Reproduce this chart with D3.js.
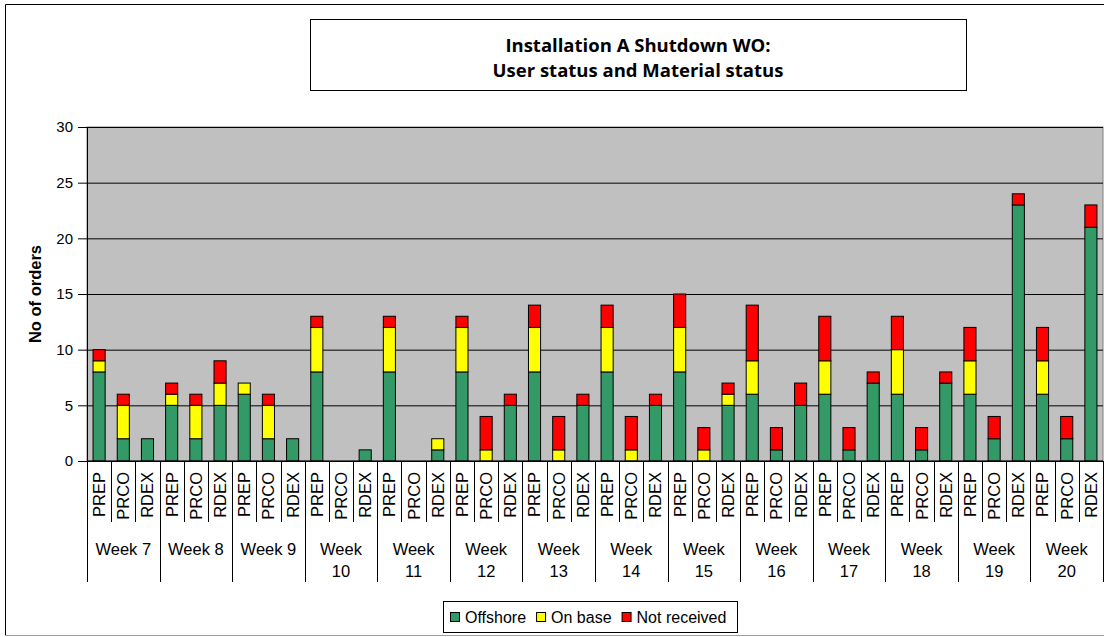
<!DOCTYPE html>
<html>
<head>
<meta charset="utf-8">
<script src="https://cdn.jsdelivr.net/npm/d3@7"></script>
<style>
body { margin:0; background:#fff; }
svg text { font-family: Arial, "Liberation Sans", sans-serif; }
</style>
</head>
<body>
<div id="orderChart"></div>
<script>
var weeks = ["Week 7","Week 8","Week 9","Week 10","Week 11","Week 12","Week 13","Week 14","Week 15","Week 16","Week 17","Week 18","Week 19","Week 20"];
var statuses = ["PREP","PRCO","RDEX"];
var seriesNames = ["Offshore","On base","Not received"];
var seriesColors = ["#339966","#ffff00","#ff0000"];
var yTicks = [0,5,10,15,20,25,30];

// one value per week/status, in order PREP, PRCO, RDEX
var offshore =    [8,2,2, 5,2,5, 6,2,2, 8,0,1, 8,0,1, 8,0,5, 8,0,5, 8,0,5, 8,0,5, 6,1,5, 6,1,7, 6,1,7, 6,2,23, 6,2,21];
var onBase =      [1,3,0, 1,3,2, 1,3,0, 4,0,0, 4,0,1, 4,1,0, 4,1,0, 4,1,0, 4,1,1, 3,0,0, 3,0,0, 4,0,0, 3,0,0,  3,0,0];
var notReceived = [1,1,0, 1,1,2, 0,1,0, 1,0,0, 1,0,0, 1,3,1, 2,3,1, 2,3,1, 3,2,1, 5,2,2, 4,2,1, 3,2,1, 3,2,1,  3,2,2];

function drawChart()
{
	var dim = {
		width: 1104,
		height: 637,
		margin: {
			top: 127,
			bottom: 176,
			left: 87,
			right: 1
		}
	}
	dim.ctrWidth = dim.width - dim.margin.left - dim.margin.right;
	dim.ctrHeight = dim.height - dim.margin.top - dim.margin.bottom;

	var rows = [];
	weeks.forEach(function(w, i) {
		statuses.forEach(function(s, j) {
			var k = i*3 + j;
			rows.push({key: w + "|" + s, week: w, status: s,
				"Offshore": offshore[k], "On base": onBase[k], "Not received": notReceived[k]});
		});
	});

	var keyAccessor = (d) => d.key;
	var stacked = d3.stack().keys(seriesNames)(rows);

	var xScale = d3.scaleBand()
	.domain(rows.map(keyAccessor))
	.range([0, dim.ctrWidth])
	.paddingInner(0.5)
	.paddingOuter(0.25);

	var weekScale = d3.scaleBand()
	.domain(weeks)
	.range([0, dim.ctrWidth]);

	var yScale = d3.scaleLinear()
	.domain([0, 30])
	.range([dim.ctrHeight, 0]);

	var colorScale = d3.scaleOrdinal()
	.domain(seriesNames)
	.range(seriesColors);

	var svg = d3.select('#orderChart')
	.append('svg')
	.attr('width', dim.width)
	.attr('height', dim.height);

	// outer chart frame
	svg.append('path')
	.attr('d', `M5.5,636 V4.5 H1110`)
	.attr('fill', 'none')
	.attr('stroke', '#000');
	svg.append('line')
	.attr('x1', 5).attr('x2', 1104).attr('y1', 635.5).attr('y2', 635.5)
	.attr('stroke', '#a0a0a0');

	// title box
	var title = svg.append('g');
	title.append('rect')
	.attr('x', 310.5).attr('y', 19.5)
	.attr('width', 656).attr('height', 71)
	.attr('fill', '#fff')
	.attr('stroke', '#000');
	title.selectAll('text')
	.data(["Installation A Shutdown WO:", "User status and Material status"])
	.join('text')
	.attr('x', 638)
	.attr('y', (d, i) => 52 + i*25)
	.attr('text-anchor', 'middle')
	.style('font-family', '"Open Sans", sans-serif')
	.style('font-weight', 'bold')
	.style('font-size', '18.5px')
	.text((d) => d);

	var ctr = svg.append('g')
	.attr('transform', `translate(${dim.margin.left},${dim.margin.top})`);

	ctr.append('rect')
	.attr('width', dim.ctrWidth)
	.attr('height', dim.ctrHeight)
	.attr('fill', '#c0c0c0')
	.attr('stroke', '#808080');

	var grid = ctr.append('g')
	.call(d3.axisLeft(yScale).tickValues(yTicks).tickSize(-dim.ctrWidth).tickFormat(''));
	grid.select('.domain').remove();
	grid.selectAll('line').attr('stroke', '#000');

	var yAxis = ctr.append('g')
	.call(d3.axisLeft(yScale).tickValues(yTicks).tickSize(9).tickPadding(5));
	yAxis.selectAll('text')
	.style('font-size', '15px')
	.attr('fill', '#000');
	yAxis.selectAll('line, path').attr('stroke', '#000');

	ctr.append('text')
	.attr('transform', `translate(${41 - dim.margin.left},${dim.ctrHeight/2}) rotate(-90)`)
	.attr('text-anchor', 'middle')
	.style('font-size', '16.5px')
	.style('font-weight', 'bold')
	.text('No of orders');

	ctr.selectAll('g.series')
	.data(stacked)
	.join('g')
	.attr('class', 'series')
	.attr('fill', (d) => colorScale(d.key))
	.selectAll('rect')
	.data((d) => d.filter((p) => p[1] > p[0]))
	.join('rect')
	.attr('x', (d) => xScale(d.data.key))
	.attr('width', xScale.bandwidth())
	.attr('y', (d) => yScale(d[1]))
	.attr('height', (d) => yScale(d[0]) - yScale(d[1]))
	.attr('stroke', '#000')
	.attr('stroke-width', 1);

	// category axis
	var xAxis = ctr.append('g')
	.attr('transform', `translate(0,${dim.ctrHeight})`);

	xAxis.append('line')
	.attr('x1', 0).attr('x2', dim.ctrWidth)
	.attr('stroke', '#000');

	var slotStart = (d) => xScale(keyAccessor(d)) - xScale.step()*xScale.paddingOuter();

	xAxis.selectAll('line.sub')
	.data(rows.filter((d) => d.status != "PREP"))
	.join('line')
	.attr('class', 'sub')
	.attr('x1', (d) => Math.round(slotStart(d)) + 0.5)
	.attr('x2', (d) => Math.round(slotStart(d)) + 0.5)
	.attr('y1', 0).attr('y2', 61)
	.attr('stroke', '#000');

	xAxis.selectAll('line.wk')
	.data(weeks.map((w) => weekScale(w)).concat([dim.ctrWidth]))
	.join('line')
	.attr('class', 'wk')
	.attr('x1', (d) => Math.round(d) + 0.5)
	.attr('x2', (d) => Math.round(d) + 0.5)
	.attr('y1', 0).attr('y2', 121)
	.attr('stroke', '#000');

	xAxis.selectAll('text.cat')
	.data(rows)
	.join('text')
	.attr('class', 'cat')
	.attr('transform', (d) => `translate(${xScale(d.key) + xScale.bandwidth()/2},11) rotate(-90)`)
	.attr('text-anchor', 'end')
	.attr('dy', '0.36em')
	.style('font-size', '16.5px')
	.text((d) => d.status);

	var weekLabels = xAxis.selectAll('text.wk')
	.data(weeks)
	.join('text')
	.attr('class', 'wk')
	.attr('text-anchor', 'middle')
	.style('font-size', '16.5px')
	.attr('transform', (d) => `translate(${weekScale(d) + weekScale.bandwidth()/2},94)`);
	weekLabels.each(function(d) {
		var parts = d.length > 6 ? d.split(" ") : [d];
		d3.select(this).selectAll('tspan')
		.data(parts)
		.join('tspan')
		.attr('x', 0)
		.attr('y', (p, i) => i*22)
		.text((p) => p);
	});

	// legend
	var legend = svg.append('g');
	legend.append('rect')
	.attr('x', 443.5).attr('y', 601.5)
	.attr('width', 294).attr('height', 31)
	.attr('fill', '#fff')
	.attr('stroke', '#000');

	var lx = 450;
	seriesNames.forEach(function(name) {
		legend.append('rect')
		.attr('x', lx + 0.5).attr('y', 612.5)
		.attr('width', 9).attr('height', 9)
		.attr('fill', colorScale(name))
		.attr('stroke', '#000');
		var t = legend.append('text')
		.attr('x', lx + 15)
		.attr('y', 622.5)
		.style('font-size', '16px')
		.text(name);
		lx = lx + 15 + t.node().getComputedTextLength() + 10;
	});
}

drawChart();
</script>
</body>
</html>
